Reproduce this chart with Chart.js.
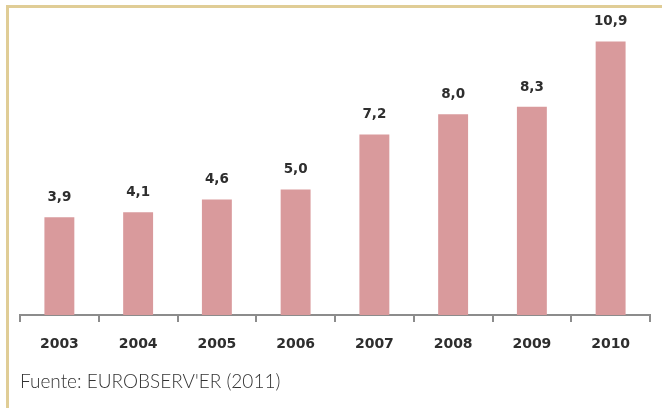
<!DOCTYPE html>
<html lang="es">
<head>
<meta charset="UTF-8">
<title>EUROBSERV'ER</title>
<script src="https://cdn.jsdelivr.net/npm/chart.js"></script>
<style>
  body { margin: 0; background: #fff; }
  #wrap { position: relative; width: 662px; height: 408px; overflow: hidden; }
  #marco {
    position: absolute; left: 6px; top: 5px; width: 670px; height: 420px;
    border-top: 3px solid #e0cd96; border-left: 3px solid #e0cd96;
  }
  #grafico { position: absolute; left: 0; top: 0; }
  #fuente {
    position: absolute; left: 20px; top: 369px;
    font-family: Lato, sans-serif; font-weight: 300; font-size: 19px; color: #333;
  }
</style>
</head>
<body>
<div id="wrap">
  <div id="marco"></div>
  <canvas id="grafico" width="662" height="408"></canvas>
  <div id="fuente">Fuente: EUROBSERV'ER (2011)</div>
</div>
<script>
// datos
const anios = ['2003', '2004', '2005', '2006', '2007', '2008', '2009', '2010'];
const valores = [3.9, 4.1, 4.6, 5.0, 7.2, 8.0, 8.3, 10.9];
const etiquetas = ['3,9', '4,1', '4,6', '5,0', '7,2', '8,0', '8,3', '10,9'];

// etiquetas encima de cada barra
const etiquetasBarras = {
  id: 'etiquetasBarras',
  afterDatasetsDraw(chart) {
    const ctx = chart.ctx;
    const meta = chart.getDatasetMeta(0);
    ctx.save();
    ctx.font = 'bold 13.5px "DejaVu Sans", Verdana, sans-serif';
    ctx.fillStyle = '#2e2e2e';
    ctx.textAlign = 'center';
    ctx.textBaseline = 'bottom';
    meta.data.forEach(function (bar, i) {
      ctx.fillText(etiquetas[i], bar.x, bar.y - 13);
    });
    ctx.restore();
  }
};

new Chart(document.getElementById('grafico'), {
  type: 'bar',
  data: {
    labels: anios,
    datasets: [{
      data: valores,
      backgroundColor: '#d99a9c',
      barPercentage: 0.76,
      categoryPercentage: 0.5
    }]
  },
  options: {
    responsive: false,
    animation: false,
    layout: { padding: { left: 20, right: 12, top: 14, bottom: 48 } },
    plugins: { legend: { display: false }, tooltip: { enabled: false } },
    scales: {
      x: {
        afterFit: function (s) { s.height = 45; },
        border: { display: true, color: '#8c8c8c', width: 2 },
        grid: { drawOnChartArea: false, drawTicks: true, tickLength: 7, color: '#8c8c8c', lineWidth: 2 },
        ticks: { padding: 14, color: '#2e2e2e', font: { family: '"DejaVu Sans", Verdana, sans-serif', size: 14, weight: 'bold' } }
      },
      y: { display: false, min: 0, max: 12 }
    }
  },
  plugins: [etiquetasBarras]
});
</script>
</body>
</html>
